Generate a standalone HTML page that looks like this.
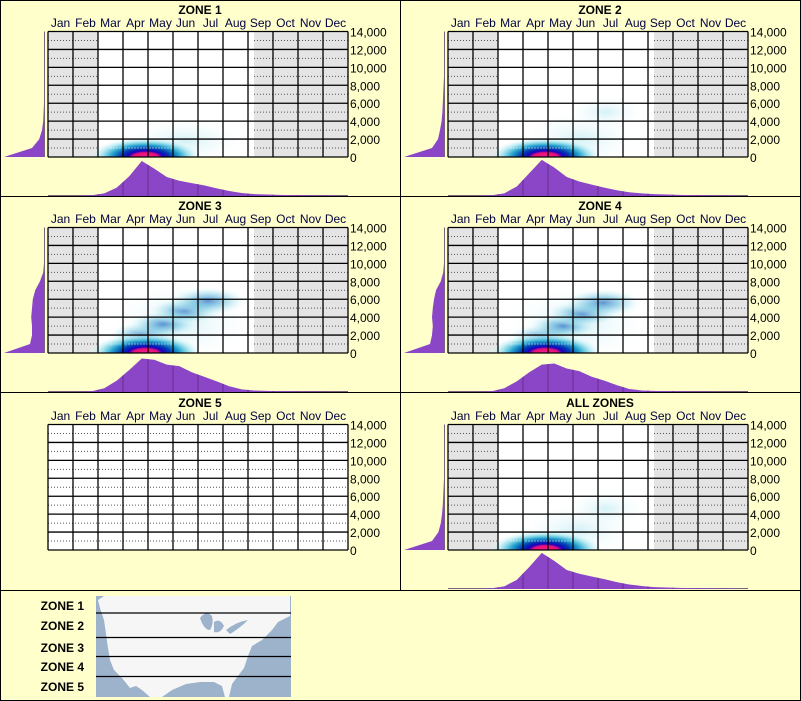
<!DOCTYPE html>
<html><head><meta charset="utf-8">
<style>
html,body{margin:0;padding:0;background:#ffffcc;}
svg{display:block;font-family:"Liberation Sans",sans-serif;}
</style></head>
<body>
<svg id="c" width="801" height="701" viewBox="0 0 801 701" xmlns="http://www.w3.org/2000/svg">
<defs>
<radialGradient id="core">
<stop offset="0" stop-color="#ff1a8c"/>
<stop offset="0.22" stop-color="#e0107a"/>
<stop offset="0.3" stop-color="#1a00c0"/>
<stop offset="0.42" stop-color="#003ab0"/>
<stop offset="0.6" stop-color="#2aa8d0"/>
<stop offset="0.8" stop-color="#a8e8f0" stop-opacity="0.7"/>
<stop offset="1" stop-color="#ffffff" stop-opacity="0"/>
</radialGradient>
<radialGradient id="soft">
<stop offset="0" stop-color="#2a70c4" stop-opacity="0.75"/>
<stop offset="0.4" stop-color="#50b0d8" stop-opacity="0.5"/>
<stop offset="0.75" stop-color="#b8eaf2" stop-opacity="0.3"/>
<stop offset="1" stop-color="#ffffff" stop-opacity="0"/>
</radialGradient>
<radialGradient id="faint">
<stop offset="0" stop-color="#b0e6f0" stop-opacity="0.55"/>
<stop offset="1" stop-color="#ffffff" stop-opacity="0"/>
</radialGradient>
</defs>
</svg>
<script>
// ----- data -----
const months = ["Jan","Feb","Mar","Apr","May","Jun","Jul","Aug","Sep","Oct","Nov","Dec"];
const yTicks = [0,2000,4000,6000,8000,10000,12000,14000];
const zoneNames = ["ZONE 1","ZONE 2","ZONE 3","ZONE 4","ZONE 5","ALL ZONES"];
// bottom histogram: half-month density (0..1), 24 values Jan..Dec
const monthDensity1 = [0,0,0,0.02,0.07,0.22,0.52,0.92,0.72,0.5,0.4,0.34,0.28,0.2,0.13,0.08,0.05,0.04,0.03,0.02,0.02,0.01,0.01,0];
const monthDensity2 = [0,0,0,0.02,0.07,0.25,0.6,0.95,0.75,0.5,0.38,0.3,0.22,0.15,0.1,0.07,0.05,0.04,0.03,0.02,0.02,0.01,0.01,0];
const monthDensity3 = [0,0,0,0.02,0.1,0.3,0.58,0.88,0.85,0.72,0.68,0.52,0.4,0.28,0.15,0.07,0.04,0.03,0.02,0.02,0.01,0.01,0,0];
const monthDensity4 = [0,0,0,0.02,0.1,0.28,0.52,0.72,0.75,0.62,0.55,0.4,0.3,0.18,0.08,0.04,0.03,0.02,0.02,0.01,0.01,0,0,0];
const monthDensity5 = [0,0,0,0,0,0,0,0,0,0,0,0,0,0,0,0,0,0,0,0,0,0,0,0];
const monthDensityAll = [0,0,0,0.02,0.07,0.24,0.58,0.95,0.74,0.5,0.4,0.33,0.26,0.18,0.12,0.08,0.05,0.04,0.03,0.02,0.02,0.01,0.01,0];
// left histogram: density by elevation (every 1000 ft, 0..14000), 0..1
const elevDensity1 = [1,0.3,0.12,0.05,0.02,0.01,0,0,0,0,0,0,0,0,0];
const elevDensity2 = [1,0.3,0.15,0.1,0.06,0.04,0.03,0.02,0.01,0,0,0,0,0,0];
const elevDensity3 = [1,0.35,0.3,0.3,0.32,0.3,0.28,0.22,0.1,0.02,0,0,0,0,0];
const elevDensity4 = [1,0.35,0.3,0.28,0.3,0.28,0.25,0.2,0.08,0.02,0,0,0,0,0];
const elevDensity5 = [0,0,0,0,0,0,0,0,0,0,0,0,0,0,0];
const elevDensityAll = [1,0.3,0.14,0.08,0.05,0.03,0.02,0.01,0,0,0,0,0,0,0];
// heatmap blobs: [month position (0..12), elevation ft, month spread, elev spread, strong(1)/faint(0)]
const coreBlob = [3.9, 0, 2.3, 1400];
const zoneBlobs1 = [[5.5,1800,2.6,2600,0]];
const zoneBlobs2 = [[5.3,2000,2.5,3200,0],[6.3,5000,1.6,2000,0]];
const zoneBlobs3 = [[5.3,3500,3.0,4800,0],[3.8,2000,1.4,1500,1],[4.6,3200,1.4,1500,1],[5.5,4700,1.5,1500,1],[6.4,5800,1.6,1600,1]];
const zoneBlobs4 = [[5.2,3300,3.0,4600,0],[3.8,1800,1.4,1500,1],[4.6,3000,1.4,1500,1],[5.4,4400,1.5,1500,1],[6.2,5600,1.6,1600,1]];
const zoneBlobsAll = [[5.2,2200,2.5,3000,0],[6.3,4600,1.7,2200,0]];

const monthSets = [monthDensity1,monthDensity2,monthDensity3,monthDensity4,monthDensity5,monthDensityAll];
const elevSets = [elevDensity1,elevDensity2,elevDensity3,elevDensity4,elevDensity5,elevDensityAll];
const blobSets = [zoneBlobs1,zoneBlobs2,zoneBlobs3,zoneBlobs4,null,zoneBlobsAll];

const NS = "http://www.w3.org/2000/svg";
const svg = document.getElementById("c");
function mk(tag, attrs, parent){
  const e = document.createElementNS(NS, tag);
  for (const k in attrs) e.setAttribute(k, attrs[k]);
  (parent||svg).appendChild(e);
  return e;
}

function drawPanel(idx, ox, oy){
  const g = mk("g", {});
  
  
  const L = ox+48, R = ox+348, T = oy+31.5, B = oy+157;
  const colW = (R-L)/12;
  const x = m => L + m*colW;
  const y = v => B - v/14000*(B-T);
  const empty = blobSets[idx] === null;

  const t = mk("text", {x: ox+200, y: oy+14, "text-anchor":"middle", "font-size":"12", "font-weight":"bold", fill:"#000"}, g);
  t.textContent = zoneNames[idx];
  
  

  months.forEach((m,i)=>{
    const mt = mk("text", {x: x(i+0.5), y: oy+27, "text-anchor":"middle", "font-size":"12", fill:"#000040"}, g);
    mt.textContent = m;
    
    
  });

  mk("rect", {x:L, y:T, width:R-L, height:B-T, fill:"#fff"}, g);
  if (!empty){
    mk("rect", {x:L, y:T, width:2*colW, height:B-T, fill:"#e4e4e4"}, g);
    mk("rect", {x:x(8)+6, y:T, width:R-x(8)-6, height:B-T, fill:"#e4e4e4"}, g);
  }
  for (let v=1000; v<14000; v+=2000){
    if (empty){
      mk("line", {x1:L, x2:R, y1:y(v), y2:y(v), stroke:"#555", "stroke-dasharray":"1,2", "stroke-width":"1"}, g);
    } else {
      mk("line", {x1:L, x2:x(2), y1:y(v), y2:y(v), stroke:"#555", "stroke-dasharray":"1,2"}, g);
      mk("line", {x1:x(8)+6, x2:R, y1:y(v), y2:y(v), stroke:"#555", "stroke-dasharray":"1,2"}, g);
    }
  }
  if (!empty){
    const cp = mk("clipPath", {id:"clip"+idx}, g);
    mk("rect", {x:L, y:T, width:R-L, height:B-T}, cp);
    const hg = mk("g", {"clip-path":"url(#clip"+idx+")"}, g);
    
    
    blobSets[idx].forEach(b=>{
      const e = mk("ellipse", {cx:x(b[0]), cy:y(b[1]), rx:b[2]*colW, ry:b[3]/14000*(B-T), fill: b[4] ? "url(#soft)" : "url(#faint)"}, hg);
      
      
    });
    const c = mk("ellipse", {cx:x(coreBlob[0]), cy:y(coreBlob[1]), rx:coreBlob[2]*colW, ry:coreBlob[3]/14000*(B-T)*1.6, fill:"url(#core)"}, hg);
    
    
    mk("line", {x1:x(2.5), x2:x(5), y1:y(1000), y2:y(1000), stroke:"#fff", "stroke-dasharray":"1,2"}, hg);
  }
  for (let v=0; v<=14000; v+=2000)
    mk("line", {x1:L, x2:R, y1:y(v), y2:y(v), stroke:"#000", "stroke-width":"1.3"}, g);
  for (let i=0;i<=12;i++)
    mk("line", {x1:x(i), x2:x(i), y1:T, y2:B, stroke:"#000", "stroke-width":"1.3"}, g);

  yTicks.forEach(v=>{
    const yt = mk("text", {x: ox+350, y: y(v)+5, "font-size":"12", fill:"#000"}, g);
    yt.textContent = v.toLocaleString("en-US");
    
    
  });

  const ed = elevSets[idx];
  if (ed.some(v=>v>0)){
    mk("line", {x1:ox+44.5, x2:ox+44.5, y1:T, y2:B, stroke:"#806080", "stroke-width":"1"}, g);
    let d = "M"+(ox+44)+","+y(0);
    ed.forEach((v,i)=>{ d += " L"+(ox+44 - v*40)+","+y(i*1000); });
    d += " L"+(ox+44)+","+y(14000)+" Z";
    const p = mk("path", {d:d, fill:"#8b46c8"}, g);
    
    
  }
  const base = oy+196;
  const md = monthSets[idx];
  if (md.some(v=>v>0)){
    mk("line", {x1:L, x2:R, y1:base-0.5, y2:base-0.5, stroke:"#806080", "stroke-width":"1"}, g);
    let d = "M"+L+","+base;
    md.forEach((v,i)=>{ d += " L"+x(i*0.5+0.25)+","+(base - v*38); });
    d += " L"+R+","+base+" Z";
    const hcp = mk("clipPath", {id:"hclip"+idx}, g);
    mk("path", {d:d}, hcp);
    const p = mk("path", {d:d, fill:"#8b46c8"}, g);
    
    
    const lg = mk("g", {"clip-path":"url(#hclip"+idx+")"}, g);
    for (let i=1;i<12;i++)
      mk("line", {x1:x(i), x2:x(i), y1:base-40, y2:base, stroke:"#4a2060", "stroke-width":"1", "stroke-opacity":"0.6"}, lg);
  }
}

const origins = [[0,0],[400,0],[0,196],[400,196],[0,393],[400,393]];
origins.forEach((o,i)=>drawPanel(i,o[0],o[1]));

mk("rect", {x:0.5, y:0.5, width:800, height:700, fill:"none", stroke:"#000"});
mk("line", {x1:400.5, x2:400.5, y1:0, y2:590, stroke:"#000"});
[196.5,392.5,590.5].forEach(v=>mk("line", {x1:0, x2:801, y1:v, y2:v, stroke:"#000"}));

// map legend
const mg = mk("g", {});


mk("rect", {x:96, y:596, width:195, height:101, fill:"#9db3cc"}, mg);
mk("path", {d:"M104,596 L290,596 L290,616 L278,622 L272,630 L262,640 L252,646 L248,656 L244,668 L238,676 L232,684 L229,697 L225,697 L222,686 L214,682 L200,682 L186,684 L172,690 L162,697 L150,697 L142,690 L136,686 L130,688 L122,678 L114,670 L110,660 L108,648 L106,634 L104,620 L100,608 L98,600 Z", fill:"#f6f6f6"}, mg);
mk("path", {d:"M200,618 q6,-8 12,-2 q2,8 -2,14 q-6,0 -10,-12 Z M214,622 q6,-4 10,4 q-4,8 -10,6 Z M226,630 q10,-8 22,-10 q-8,8 -18,14 Z", fill:"#9db3cc"}, mg);
[613,637.5,656.5,676.5].forEach(v=>mk("line", {x1:96, x2:291, y1:v, y2:v, stroke:"#000", "stroke-width":"1.2"}, mg));
const zl = ["ZONE 1","ZONE 2","ZONE 3","ZONE 4","ZONE 5"];
const zy = [610,630,652,671,691];
zl.forEach((z,i)=>{
  const t = mk("text", {x:84, y:zy[i], "text-anchor":"end", "font-size":"12", "font-weight":"bold", fill:"#000"}, mg);
  t.textContent = z;
  
  
});
</script>
</body></html>
